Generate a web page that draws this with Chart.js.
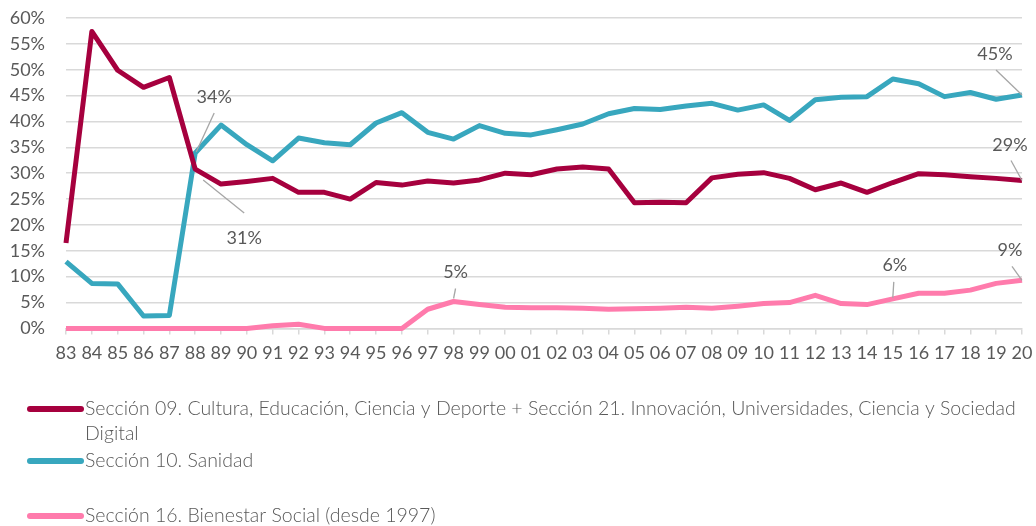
<!DOCTYPE html>
<html><head><meta charset="utf-8">
<script src="https://cdn.jsdelivr.net/npm/chart.js@4/dist/chart.umd.min.js"></script>
<style>html,body{margin:0;padding:0;background:#fff;}#wrap{width:1036px;height:526px;position:relative;}</style>
</head><body><div id="wrap"><canvas id="c" width="1036" height="526"></canvas></div>
<script>
const years = ['83','84','85','86','87','88','89','90','91','92','93','94','95','96','97','98','99','00','01','02','03','04','05','06','07','08','09','10','11','12','13','14','15','16','17','18','19','20'];
const seccion09 = [16.5,57.4,49.9,46.6,48.5,30.8,27.9,28.4,29.0,26.3,26.3,25.0,28.2,27.7,28.5,28.1,28.7,30.0,29.7,30.8,31.2,30.8,24.3,24.4,24.3,29.1,29.8,30.1,29.0,26.8,28.1,26.3,28.2,29.9,29.7,29.3,29.0,28.6];
const seccion10 = [12.9,8.7,8.6,2.4,2.5,33.9,39.3,35.5,32.4,36.8,35.9,35.5,39.7,41.7,37.9,36.6,39.2,37.7,37.4,38.4,39.5,41.5,42.5,42.3,43.0,43.5,42.2,43.2,40.2,44.2,44.7,44.8,48.2,47.3,44.8,45.6,44.3,45.1];
const seccion16 = [0,0,0,0,0,0,0,0,0.5,0.8,0,0,0,0,3.7,5.2,4.6,4.1,4.0,4.0,3.9,3.7,3.8,3.9,4.1,3.9,4.3,4.8,5.0,6.4,4.8,4.6,5.7,6.8,6.8,7.4,8.7,9.3];
const seriesLabels = [
  'Sección 09. Cultura, Educación, Ciencia y Deporte + Sección 21. Innovación, Universidades, Ciencia y Sociedad Digital',
  'Sección 10. Sanidad',
  'Sección 16. Bienestar Social (desde 1997)'
];
const yMin = 0, yMax = 60, yStep = 5;

const TXT = '#595959';
const FONT = 'Lato, "Open Sans", sans-serif';

// callouts: dataset index, category index, label offset and leader offsets (px)
const callouts = [
  {ds:1, idx:5,  dx:19,  dy:-56, p1:[1,-1],  p2:[19,-40]},
  {ds:0, idx:5,  dx:49,  dy:69,  p1:[8,11],  p2:[49,44]},
  {ds:2, idx:15, dx:2,   dy:-29, p1:[0,-3],  p2:[2,-13]},
  {ds:1, idx:37, dx:-27, dy:-41, p1:[0,0],   p2:[-26,-25]},
  {ds:0, idx:37, dx:-12, dy:-35, p1:[0,0],   p2:[-11,-20]},
  {ds:2, idx:32, dx:2,   dy:-34, p1:[0,-1],  p2:[1,-17]},
  {ds:2, idx:37, dx:-12, dy:-30, p1:[0,0],   p2:[-10,-14]}
];

const calloutPlugin = {
  id: 'callouts',
  afterDatasetsDraw(chart) {
    const ctx = chart.ctx, xs = chart.scales.x, ys = chart.scales.y;
    ctx.save();
    ctx.font = '18px ' + FONT;
    ctx.fillStyle = TXT;
    ctx.textAlign = 'center';
    ctx.textBaseline = 'middle';
    callouts.forEach(c => {
      const v = chart.data.datasets[c.ds].data[c.idx];
      const ax = xs.getPixelForValue(c.idx), ay = ys.getPixelForValue(v);
      ctx.strokeStyle = '#A6A6A6';
      ctx.lineWidth = 1.3;
      ctx.beginPath();
      ctx.moveTo(ax + c.p1[0], ay + c.p1[1]);
      ctx.lineTo(ax + c.p2[0], ay + c.p2[1]);
      ctx.stroke();
      ctx.fillText(Math.round(v) + '%', ax + c.dx, ay + c.dy);
    });
    ctx.restore();
  }
};

const legendPlugin = {
  id: 'customLegend',
  afterDraw(chart, args, opts) {
    const ctx = chart.ctx;
    ctx.save();
    ctx.font = opts.font;
    ctx.textBaseline = 'middle';
    ctx.textAlign = 'left';
    chart.data.datasets.forEach((ds, i) => {
      const y = opts.rows[i];
      ctx.strokeStyle = ds.borderColor;
      ctx.lineWidth = 6;
      ctx.lineCap = 'round';
      ctx.beginPath();
      ctx.moveTo(opts.lineX1, y);
      ctx.lineTo(opts.lineX2, y);
      ctx.stroke();
      const words = ds.label.split(' ');
      const lines = [];
      let cur = '';
      words.forEach(w => {
        const t = cur ? cur + ' ' + w : w;
        if (ctx.measureText(t).width > opts.maxWidth && cur) { lines.push(cur); cur = w; }
        else cur = t;
      });
      if (cur) lines.push(cur);
      ctx.fillStyle = TXT;
      lines.forEach((l, k) => ctx.fillText(l, opts.textX, y + k * opts.lineHeight));
    });
    ctx.restore();
  }
};

new Chart(document.getElementById('c'), {
  type: 'line',
  data: {
    labels: years,
    datasets: [
      {label: seriesLabels[0], data: seccion09, borderColor: '#A6003E'},
      {label: seriesLabels[1], data: seccion10, borderColor: '#38A7BE'},
      {label: seriesLabels[2], data: seccion16, borderColor: '#FF7BAC'}
    ].map(d => Object.assign(d, {borderWidth: 5, pointRadius: 0, tension: 0, fill: false, clip: false, borderJoinStyle: 'round', borderCapStyle: 'butt'}))
  },
  options: {
    responsive: false,
    animation: false,
    devicePixelRatio: 1,
    layout: {padding: {top: 18, right: 14, bottom: 154, left: 0}},
    plugins: {
      legend: {display: false},
      tooltip: {enabled: false},
      customLegend: {
        font: '300 19.5px ' + FONT,
        rows: [409, 461, 516],
        lineHeight: 25,
        lineX1: 30, lineX2: 81,
        textX: 85,
        maxWidth: 945
      }
    },
    scales: {
      x: {
        offset: false,
        afterFit(s) { s.paddingLeft = 0; s.paddingRight = 0; },
        grid: {display: true, drawOnChartArea: false, drawTicks: true, tickLength: 6, color: '#D9D9D9', lineWidth: 1.5},
        border: {display: true, color: '#D9D9D9', width: 1.5},
        ticks: {color: TXT, font: {family: FONT, size: 18}, padding: 8, maxRotation: 0, autoSkip: false}
      },
      y: {
        min: yMin, max: yMax,
        afterFit(s) { s.width = 66; s.paddingTop = 0; s.paddingBottom = 0; },
        grid: {color: '#D9D9D9', lineWidth: 1.5, drawTicks: false},
        border: {display: false},
        ticks: {stepSize: yStep, autoSkip: false, color: TXT, font: {family: FONT, size: 18}, padding: 21, callback: v => v + '%'}
      }
    }
  },
  plugins: [calloutPlugin, legendPlugin]
});
</script>
</body></html>
